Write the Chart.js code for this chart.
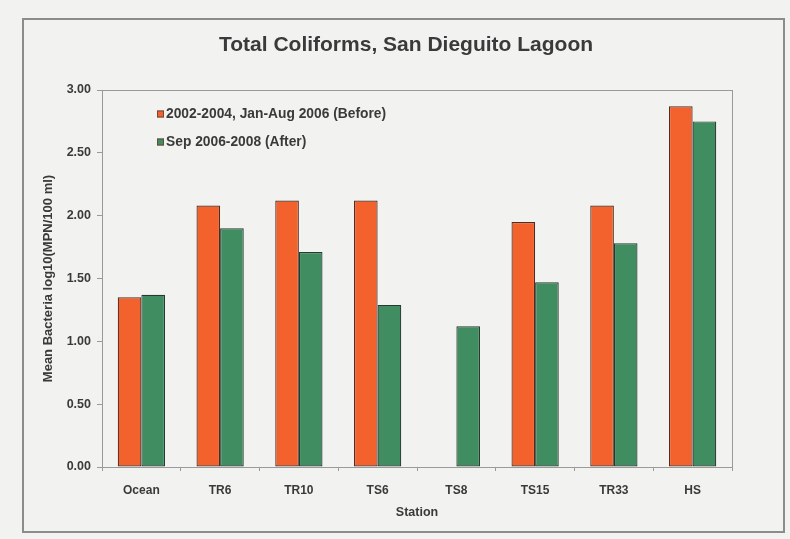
<!DOCTYPE html>
<html>
<head>
<meta charset="utf-8">
<script src="https://cdn.jsdelivr.net/npm/chart.js@4.4.1/dist/chart.umd.min.js"></script>
<style>
  html, body { margin: 0; padding: 0; background: #f2f2f0; }
  #wrap { width: 790px; height: 539px; position: relative; }
</style>
</head>
<body>
<div id="wrap"><canvas id="c" width="790" height="539"></canvas></div>
<script>
const chartTitle = 'Total Coliforms, San Dieguito Lagoon';
const categories = ['Ocean', 'TR6', 'TR10', 'TS6', 'TS8', 'TS15', 'TR33', 'HS'];
const seriesNames = ['2002-2004, Jan-Aug 2006 (Before)', 'Sep 2006-2008 (After)'];
const beforeValues = [1.35, 2.08, 2.12, 2.12, null, 1.95, 2.08, 2.87];
const afterValues = [1.37, 1.90, 1.71, 1.29, 1.12, 1.47, 1.78, 2.75];
const yTickValues = [0, 0.5, 1.0, 1.5, 2.0, 2.5, 3.0];
const yTitle = 'Mean Bacteria log10(MPN/100 ml)';
const xTitle = 'Station';

const FONT = "'Liberation Sans', Arial, sans-serif";
const TEXT = '#3a3a3a';
const AXIS = '#9a9a9a';

const framePlugin = {
  id: 'frame',
  beforeDraw(chart) {
    const ctx = chart.ctx;
    ctx.save();
    ctx.fillStyle = '#f2f2f0';
    ctx.fillRect(0, 0, chart.width, chart.height);
    ctx.strokeStyle = '#8c8c8c';
    ctx.lineWidth = 2;
    ctx.strokeRect(23, 19, 761, 513);
    ctx.restore();
  },
  afterDraw(chart) {
    const ctx = chart.ctx;
    const a = chart.chartArea;
    ctx.save();
    ctx.strokeStyle = AXIS;
    ctx.lineWidth = 1;
    ctx.strokeRect(a.left + 0.5, a.top + 0.5, a.right - a.left, a.bottom - a.top);
    ctx.fillStyle = TEXT;
    ctx.font = 'bold 21px ' + FONT;
    ctx.textAlign = 'center';
    ctx.textBaseline = 'middle';
    ctx.fillText(chartTitle, 406, 45);
    ctx.font = 'bold 13.8px ' + FONT;
    ctx.textAlign = 'left';
    chart.data.datasets.forEach((ds, i) => {
      const y = 114 + i * 28;
      ctx.fillStyle = ds.backgroundColor;
      ctx.fillRect(157, y - 3.5, 7, 7);
      ctx.strokeStyle = '#6a4a3a';
      ctx.lineWidth = 1;
      ctx.strokeRect(157.5, y - 3, 6, 6);
      ctx.fillStyle = TEXT;
      ctx.fillText(ds.label, 166, y + 0.5);
    });
    ctx.restore();
  }
};

new Chart(document.getElementById('c'), {
  type: 'bar',
  data: {
    labels: categories,
    datasets: [
      { label: seriesNames[0], data: beforeValues, backgroundColor: '#f3612c', borderColor: '#4e2e20', borderWidth: 1.2, borderSkipped: false },
      { label: seriesNames[1], data: afterValues, backgroundColor: '#3f8d61', borderColor: '#263a2e', borderWidth: 1.2, borderSkipped: false }
    ]
  },
  options: {
    responsive: false,
    animation: false,
    devicePixelRatio: 1,
    layout: { padding: { top: 90, right: 58, bottom: 0, left: 0 } },
    datasets: { bar: { categoryPercentage: 0.6, barPercentage: 1.0 } },
    plugins: {
      legend: { display: false },
      title: { display: false },
      tooltip: { enabled: false }
    },
    scales: {
      x: {
        grid: { display: true, drawOnChartArea: false, drawTicks: true, tickLength: 4, color: AXIS, offset: true },
        border: { display: true, color: AXIS },
        ticks: { color: TEXT, font: { family: FONT, size: 12, weight: 'bold' }, padding: 12 },
        title: { display: true, text: xTitle, color: TEXT, font: { family: FONT, size: 12.5, weight: 'bold' }, padding: { top: 0, bottom: 19 } },
        afterFit(scale) { scale.height = 72; }
      },
      y: {
        min: 0, max: 3,
        afterBuildTicks(scale) { scale.ticks = yTickValues.map(v => ({ value: v })); },
        grid: { display: true, drawOnChartArea: false, drawTicks: true, tickLength: 5, color: AXIS },
        border: { display: true, color: AXIS },
        ticks: { color: TEXT, font: { family: FONT, size: 12.5, weight: 'bold' }, padding: 6, callback: v => Number(v).toFixed(2) },
        title: { display: true, text: yTitle, color: TEXT, font: { family: FONT, size: 13, weight: 'bold' }, padding: { top: 41, bottom: 0 } },
        afterFit(scale) { scale.width = 102; }
      }
    }
  },
  plugins: [framePlugin]
});
</script>
</body>
</html>
